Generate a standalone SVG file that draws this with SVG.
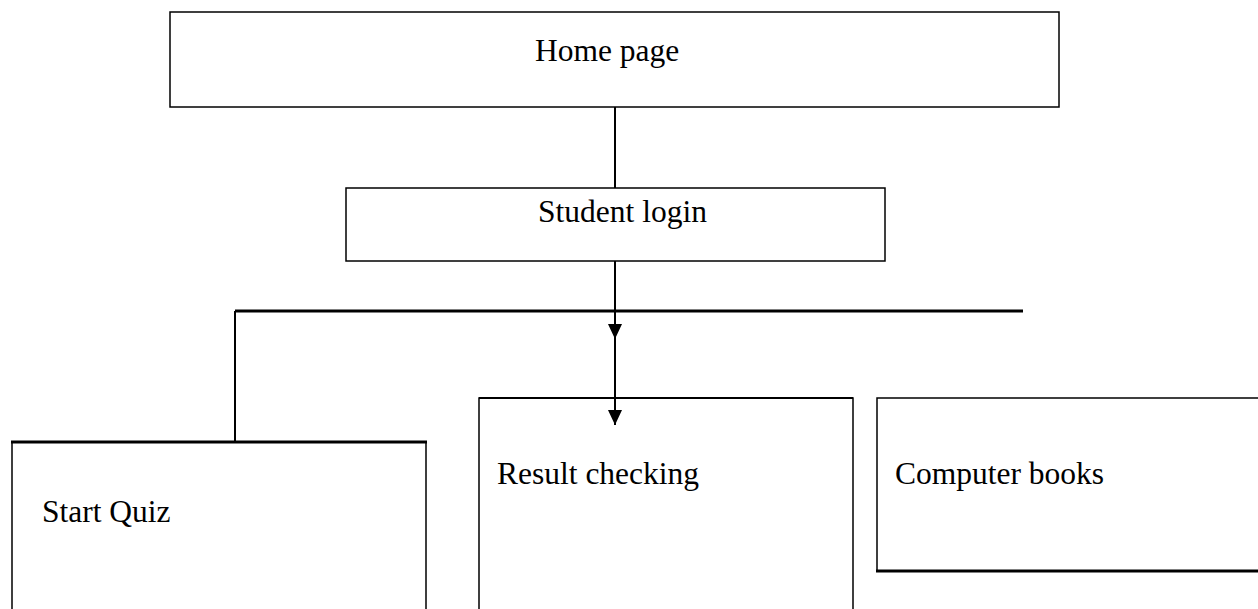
<svg xmlns="http://www.w3.org/2000/svg" width="1258" height="609" viewBox="0 0 1258 609">
  <style>
    .box { fill: #fff; stroke: #000; stroke-width: 1.5; }
    .edge { stroke: #000; fill: none; }
    .lbl { font-family: "Liberation Serif", "Times New Roman", serif; font-size: 31.5px; fill: #000; }
  </style>
  <defs>
    <marker id="arr" markerUnits="userSpaceOnUse" markerWidth="16" markerHeight="14" refX="15" refY="7" orient="auto">
      <path d="M0,0 L15,7 L0,14 z" fill="#000"/>
    </marker>
  </defs>
  <rect width="1258" height="609" fill="#fff"/>

  <g id="connectors">
    <line class="edge" x1="615" y1="107" x2="615" y2="188" stroke-width="2"/>
    <line class="edge" x1="235" y1="311" x2="1023" y2="311" stroke-width="3"/>
    <line class="edge" x1="235" y1="311" x2="235" y2="442" stroke-width="2"/>
    <line class="edge" x1="615" y1="261" x2="615" y2="339" stroke-width="2" marker-end="url(#arr)"/>
    <line class="edge" x1="615" y1="339" x2="615" y2="425" stroke-width="2" marker-end="url(#arr)"/>
  </g>

  <g id="home-page">
    <rect class="box" x="170" y="12" width="889" height="95"/>
    <text class="lbl" x="535" y="61">Home page</text>
  </g>

  <g id="student-login">
    <rect class="box" x="346" y="188" width="539" height="73"/>
    <text class="lbl" x="538" y="222">Student login</text>
  </g>

  <g id="start-quiz">
    <path class="edge" d="M12,612 V442 H426 V612" stroke-width="1.5"/>
    <line class="edge" x1="11" y1="442" x2="427" y2="442" stroke-width="3"/>
    <text class="lbl" x="42" y="522">Start Quiz</text>
  </g>

  <g id="result-checking">
    <path class="edge" d="M479,612 V398 H853 V612" stroke-width="1.5"/>
    <line class="edge" x1="479" y1="398" x2="853" y2="398" stroke-width="2"/>
    <text class="lbl" x="497" y="484">Result checking</text>
  </g>

  <g id="computer-books">
    <path class="edge" d="M1262,398 H877 V571 H1262" stroke-width="1.5"/>
    <line class="edge" x1="876" y1="571" x2="1262" y2="571" stroke-width="3"/>
    <text class="lbl" x="895" y="484">Computer books</text>
  </g>
</svg>
